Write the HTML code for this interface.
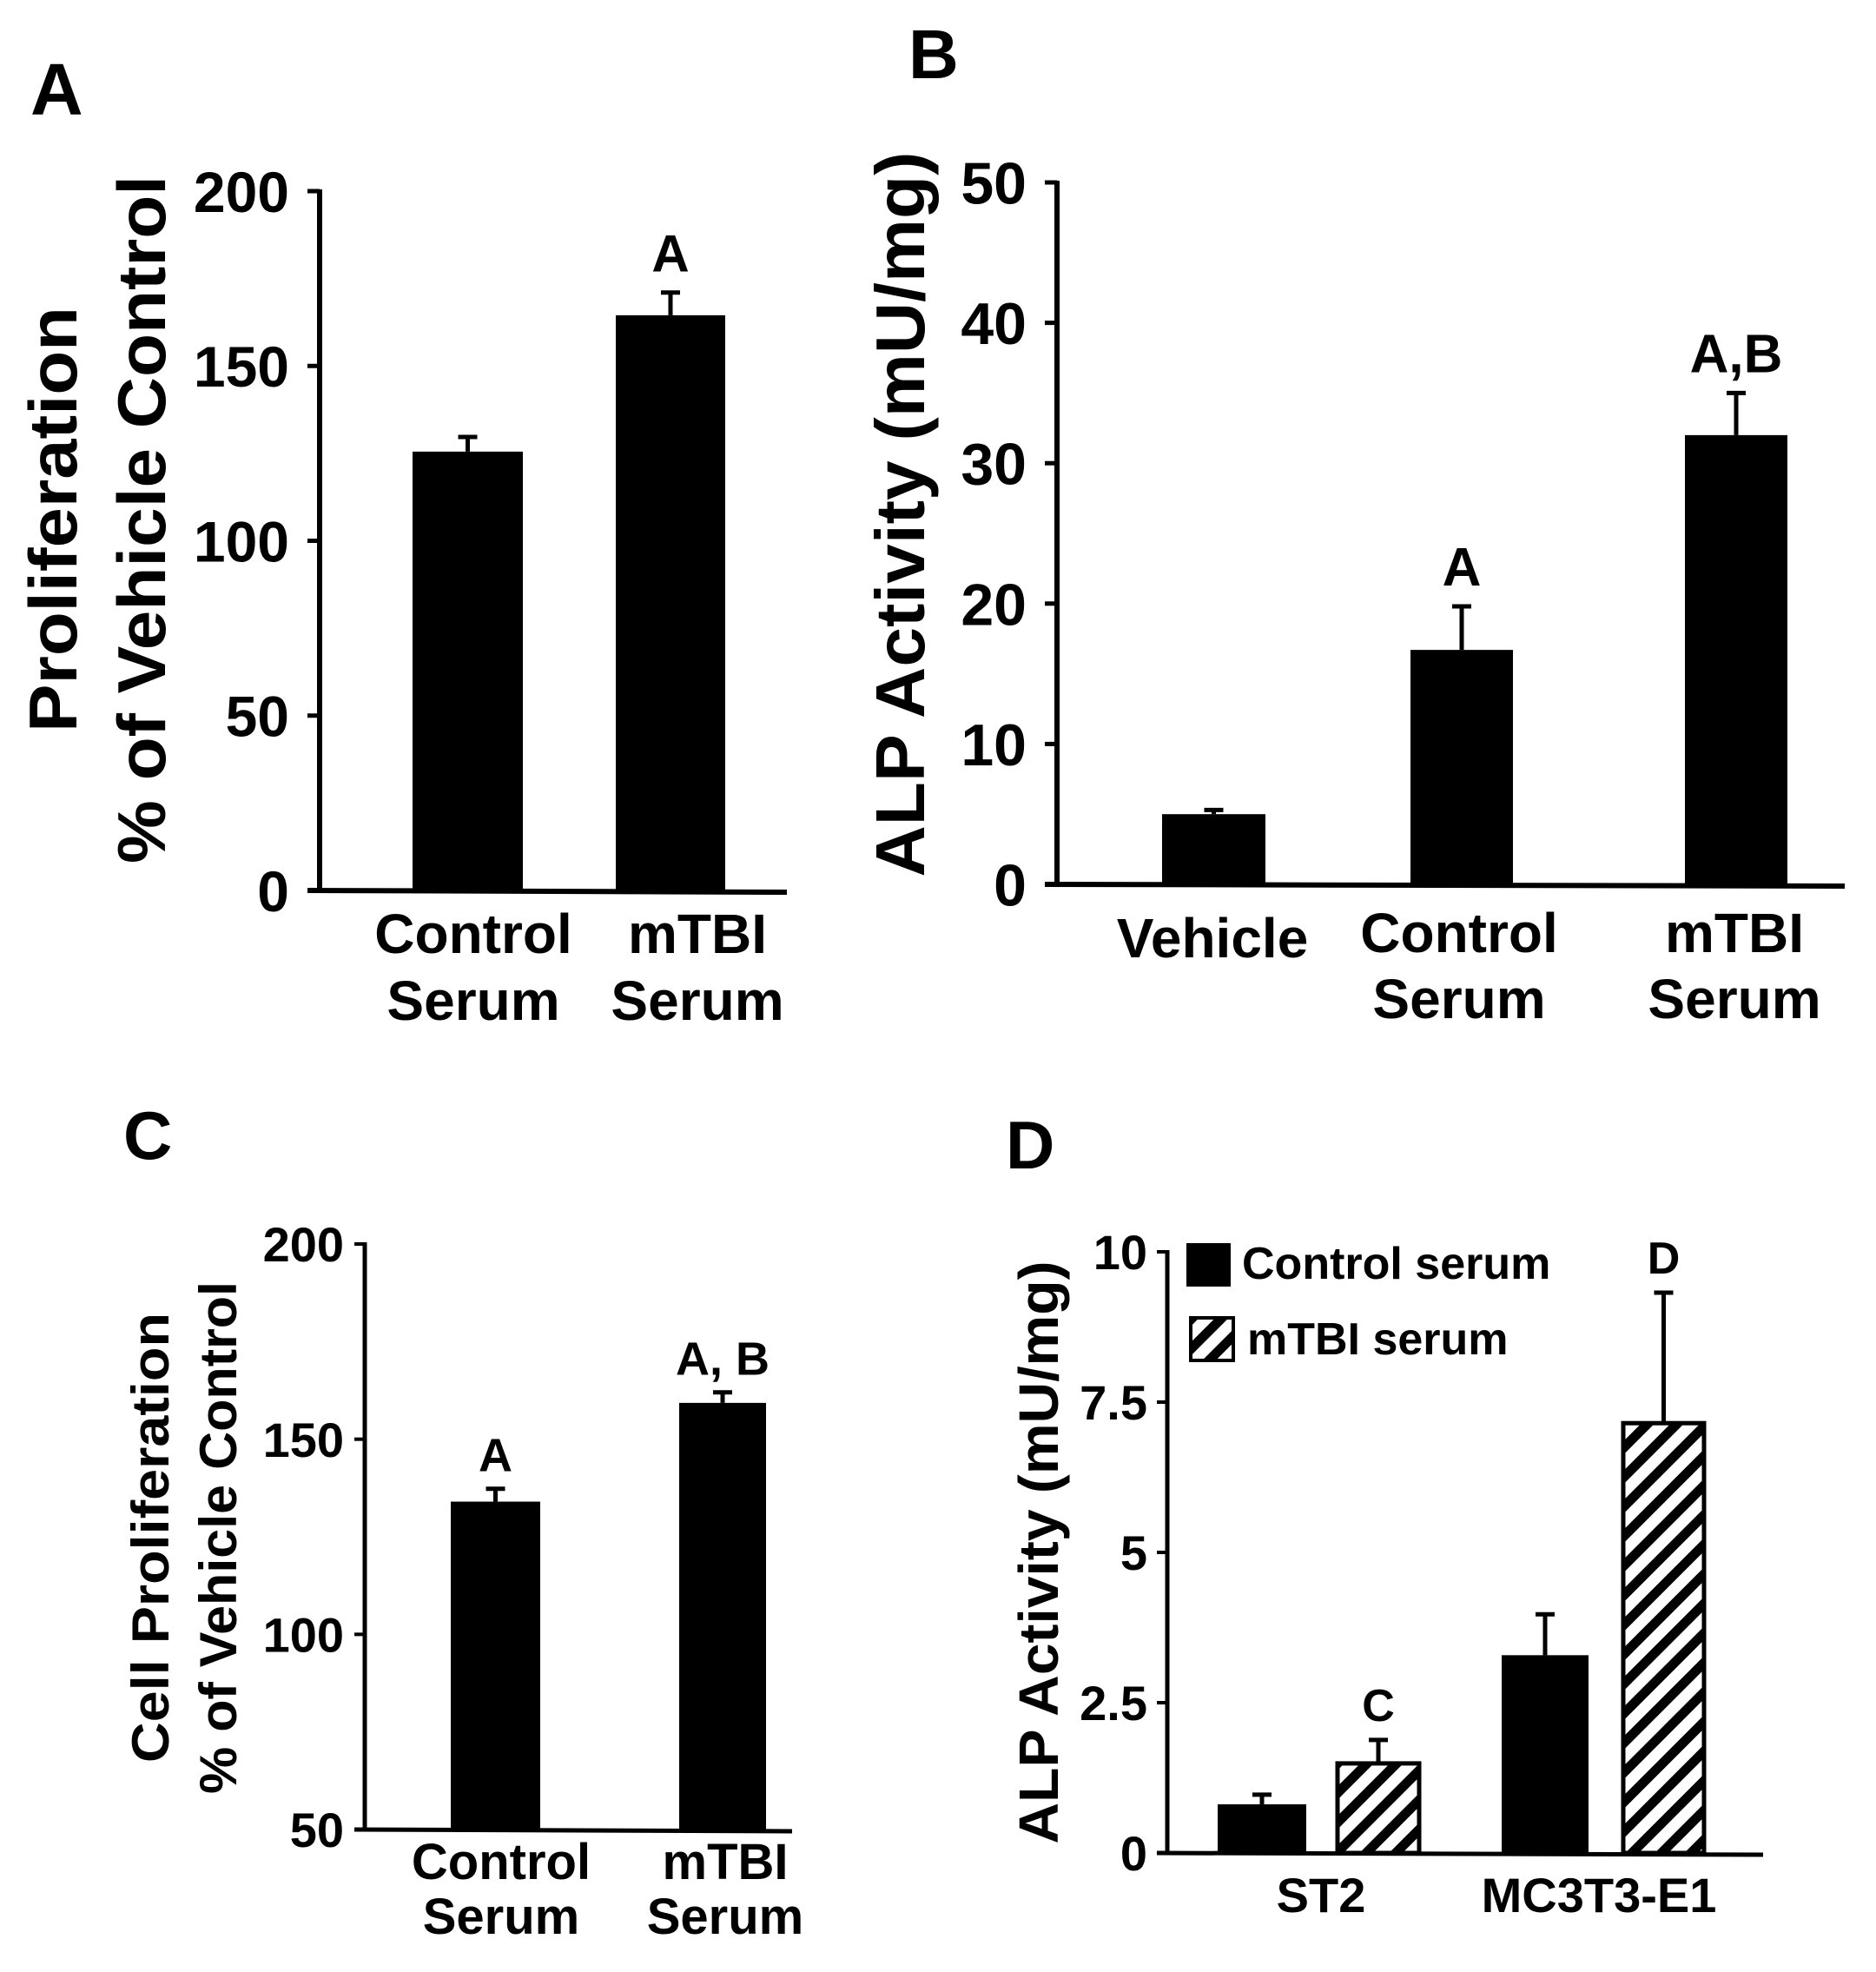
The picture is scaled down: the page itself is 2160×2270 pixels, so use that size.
<!DOCTYPE html>
<html><head><meta charset="utf-8"><style>
html,body{margin:0;padding:0;background:#fff;}
svg{display:block;font-family:"Liberation Sans",Arial,sans-serif;font-weight:bold;}
</style></head><body>
<svg id="fig" width="2160" height="2270" viewBox="0 0 2160 2270">
<defs>
<pattern id="hatch" patternUnits="userSpaceOnUse" width="34" height="34">
<rect width="34" height="34" fill="#fff"/>
<path d="M-8,42 L42,-8 M-25,25 L25,-25 M9,59 L59,9" stroke="#000" stroke-width="11"/>
</pattern>
</defs>
<g id="root"></g>
</svg>
<script>
// Panel A data
const aCats = [["Control","Serum"],["mTBI","Serum"]];
const aVals = [125.5, 164.5];
const aErrs = [129.7, 171];
const aSig = ["", "A"];
const aTicks = [0,50,100,150,200];
// Panel B data
const bCats = [["Vehicle"],["Control","Serum"],["mTBI","Serum"]];
const bVals = [5.0, 16.7, 32.0];
const bErrs = [5.3, 19.8, 35.0];
const bSig = ["", "A", "A,B"];
const bTicks = [0,10,20,30,40,50];
// Panel C data
const cCats = [["Control","Serum"],["mTBI","Serum"]];
const cVals = [134, 159.3];
const cErrs = [137.3, 162];
const cSig = ["A", "A, B"];
const cTicks = [50,100,150,200];
// Panel D data
const dGroups = ["ST2","MC3T3-E1"];
const dControl = [0.81, 3.29];
const dControlErr = [0.97, 3.97];
const dMtbi = [1.49, 7.15];
const dMtbiErr = [1.88, 9.32];
const dSigControl = ["", ""];
const dSigMtbi = ["C", "D"];
const dTicks = ["0","2.5","5","7.5","10"];

const NS="http://www.w3.org/2000/svg";
const root=document.getElementById('root');
function el(tag,attrs,parent,txt){const e=document.createElementNS(NS,tag);for(const k in attrs)e.setAttribute(k,attrs[k]);if(txt!==undefined)e.textContent=txt;(parent||root).appendChild(e);return e;}

function panel(cfg){
  const g=el('g',{});
  
  
  const y=v=>cfg.y0-(v-cfg.vmin)/(cfg.vmax-cfg.vmin)*(cfg.y0-cfg.ytop);
  const L=el('text',{x:cfg.letter[0],y:cfg.letter[1],'font-size':cfg.letter[2]},g,cfg.letterText);
  
  
  const ya=el('line',{x1:cfg.ax,y1:cfg.ytop-2,x2:cfg.ax,y2:cfg.y0+2,stroke:'#000','stroke-width':cfg.lw},g);
  
  
  const xa=el('line',{x1:cfg.ax-cfg.tick,y1:cfg.y0,x2:cfg.xend,y2:cfg.y0+2,stroke:'#000','stroke-width':cfg.lw},g);
  
  
  cfg.ticks.forEach(t=>{
    const v=parseFloat(t);
    el('line',{x1:cfg.ax-cfg.tick,y1:y(v),x2:cfg.ax,y2:y(v),stroke:'#000','stroke-width':cfg.lw-1},g);
    const tl=el('text',{x:cfg.tlx,y:y(v)+cfg.tfs*0.36,'font-size':cfg.tfs,'text-anchor':'end'},g,String(t));
    
    
  });
  cfg.titles.forEach(tt=>{
    const t=el('text',{x:0,y:0,'font-size':tt.fs,'text-anchor':'middle',transform:`translate(${tt.x},${tt.y}) rotate(-90)`,textLength:tt.len,lengthAdjust:'spacingAndGlyphs'},g,tt.text);
    
    
  });
  cfg.bars.forEach(b=>{
    const top=y(b.v), et=y(b.e), cx=(b.x0+b.x1)/2;
    el('line',{x1:cx,y1:top,x2:cx,y2:et,stroke:'#000','stroke-width':5},g);
    el('line',{x1:cx-11,y1:et,x2:cx+11,y2:et,stroke:'#000','stroke-width':5},g);
    const r=el('rect',{x:b.x0,y:top,width:b.x1-b.x0,height:cfg.y0-top,fill:b.hatch?'url(#hatch)':'#000',stroke:'#000','stroke-width':b.hatch?5:0},g);
    
    
    if(b.sig){
      const s=el('text',{x:cx,y:et-cfg.sigGap,'font-size':cfg.sfs,'text-anchor':'middle'},g,b.sig);
      
      
    }
  });
  cfg.xlabels.forEach(xl=>{
    xl.lines.forEach((ln,i)=>{
      const t=el('text',{x:xl.cx,y:xl.y[i],'font-size':cfg.xfs,'text-anchor':'middle'},g,ln);
      
      
    });
  });
  return g;
}

// Panel A
panel({name:'panel-a',letterText:'A',letter:[35,132,84],ax:368,ytop:220,y0:1025,vmin:0,vmax:200,xend:906,lw:6,tick:14,
  ticks:aTicks,tlx:333,tfs:66,sfs:60,sigGap:24,xfs:64,
  titles:[{text:'Proliferation',x:88,y:598,fs:78,len:490},{text:'% of Vehicle Control',x:190,y:598,fs:78,len:792}],
  bars:aVals.map((v,i)=>({v:v,e:aErrs[i],sig:aSig[i],x0:[475,709][i],x1:[602,835][i]})),
  xlabels:aCats.map((c,i)=>({lines:c,cx:[545,803][i],y:[1097,1174]}))});

// Panel B
panel({name:'panel-b',letterText:'B',letter:[1046,90,80],ax:1217,ytop:210,y0:1018,vmin:0,vmax:50,xend:2124,lw:6,tick:14,
  ticks:bTicks,tlx:1182,tfs:68,sfs:62,sigGap:24,xfs:64,
  titles:[{text:'ALP Activity (mU/mg)',x:1064,y:592,fs:80,len:835}],
  bars:bVals.map((v,i)=>({v:v,e:bErrs[i],sig:bSig[i],x0:[1338,1624,1940][i],x1:[1457,1742,2058][i]})),
  xlabels:bCats.map((c,i)=>({lines:c,cx:[1396,1680,1997][i],y:c.length===1?[1102]:[1096,1172]}))});

// Panel C
panel({name:'panel-c',letterText:'C',letter:[142,1334,78],ax:420,ytop:1432,y0:2106,vmin:50,vmax:200,xend:912,lw:5,tick:12,
  ticks:cTicks,tlx:396,tfs:56,sfs:54,sigGap:20,xfs:58,
  titles:[{text:'Cell Proliferation',x:194,y:1770,fs:60,len:518},{text:'% of Vehicle Control',x:272,y:1770,fs:60,len:590}],
  bars:cVals.map((v,i)=>({v:v,e:cErrs[i],sig:cSig[i],x0:[519,782][i],x1:[622,882][i]})),
  xlabels:cCats.map((c,i)=>({lines:c,cx:[577,835][i],y:[2163,2226]}))});

// Panel D
const dBars=[];
dGroups.forEach((gname,i)=>{
  dBars.push({v:dControl[i],e:dControlErr[i],sig:dSigControl[i],x0:[1402,1729][i],x1:[1504,1829][i]});
  dBars.push({v:dMtbi[i],e:dMtbiErr[i],sig:dSigMtbi[i],x0:[1540,1869][i],x1:[1634,1962][i],hatch:true});
});
panel({name:'panel-d',letterText:'D',letter:[1158,1345,78],ax:1344,ytop:1441,y0:2133,vmin:0,vmax:10,xend:2030,lw:5,tick:12,
  ticks:dTicks,tlx:1321,tfs:56,sfs:52,sigGap:22,xfs:56,
  titles:[{text:'ALP Activity (mU/mg)',x:1218,y:1787,fs:64,len:671}],
  bars:dBars,
  xlabels:dGroups.map((c,i)=>({lines:[c],cx:[1521,1841][i],y:[2201]}))});

// Legend D
const lg=el('g',{});


const le1=el('rect',{x:1366,y:1431,width:51,height:50,fill:'#000'},lg);


const lt1=el('text',{x:1430,y:1472,'font-size':52},lg,'Control serum');


const le2=el('rect',{x:1371,y:1517,width:49,height:49,fill:'url(#hatch)',stroke:'#000','stroke-width':4},lg);


const lt2=el('text',{x:1436,y:1559,'font-size':52},lg,'mTBI serum');


</script>
</body></html>
